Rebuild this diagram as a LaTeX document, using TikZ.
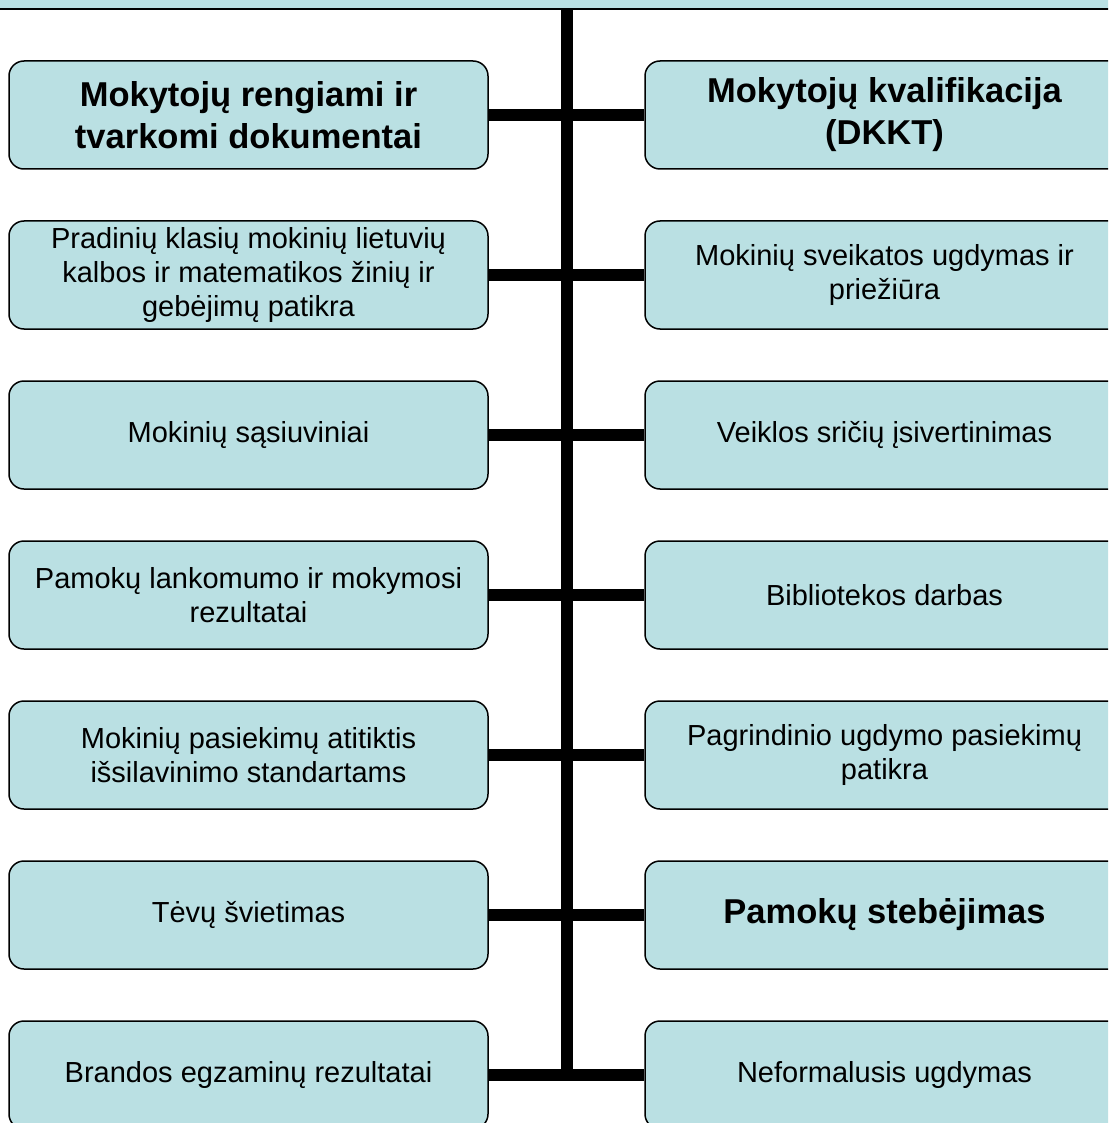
\documentclass[tikz,border=0pt]{standalone}
\usepackage{fontspec}
\setmainfont{Liberation Sans}
\definecolor{boxblue}{RGB}{186,224,227}
\begin{document}
\begin{tikzpicture}[x=1pt,y=-1pt,
  box/.style={draw=black, line width=1.5pt, fill=boxblue, rounded corners=15pt,
    minimum width=479pt, minimum height=108pt, align=center, inner sep=0pt},
  reg/.style={font=\fontsize{29}{34}\selectfont},
  bld/.style={font=\fontsize{34.5}{42}\selectfont\bfseries},
  conn/.style={line width=12pt}]
\useasboundingbox (0,0) rectangle (1108,1123);
\clip (0,0) rectangle (1108,1123);
% top bar (cut off)
\node[draw=black, line width=1.5pt, fill=boxblue, minimum width=1200pt,
  minimum height=60pt, inner sep=0pt] (top) at (554,-21) {};
% left column
\node[box,bld] (L1) at (248.5,115) {Mokytojų rengiami ir\\tvarkomi dokumentai};
\node[box,reg] (L2) at (248.5,275) {Pradinių klasių mokinių lietuvių\\kalbos ir matematikos žinių ir\\gebėjimų patikra};
\node[box,reg] (L3) at (248.5,435) {Mokinių sąsiuviniai};
\node[box,reg] (L4) at (248.5,595) {Pamokų lankomumo ir mokymosi\\rezultatai};
\node[box,reg] (L5) at (248.5,755) {Mokinių pasiekimų atitiktis\\išsilavinimo standartams};
\node[box,reg] (L6) at (248.5,915) {Tėvų švietimas};
\node[box,reg] (L7) at (248.5,1075) {Brandos egzaminų rezultatai};
% right column
\node[box,bld] (R1) at (884.5,115) {Mokytojų kvalifikacija\\(DKKT)};
\node[box,reg] (R2) at (884.5,275) {Mokinių sveikatos ugdymas ir\\priežiūra};
\node[box,reg] (R3) at (884.5,435) {Veiklos sričių įsivertinimas};
\node[box,reg] (R4) at (884.5,595) {Bibliotekos darbas};
\node[box,reg] (R5) at (884.5,755) {Pagrindinio ugdymo pasiekimų\\patikra};
\node[box,bld] (R6) at (884.5,915) {Pamokų stebėjimas};
\node[box,reg] (R7) at (884.5,1075) {Neformalusis ugdymas};
% trunk
\coordinate (tb) at (567,1075);
\draw[conn] (tb |- top.south) -- (tb);
% branches
\foreach \i in {1,...,7}{
  \draw[conn] (L\i.east) -- (R\i.west);
}
\end{tikzpicture}
\end{document}
